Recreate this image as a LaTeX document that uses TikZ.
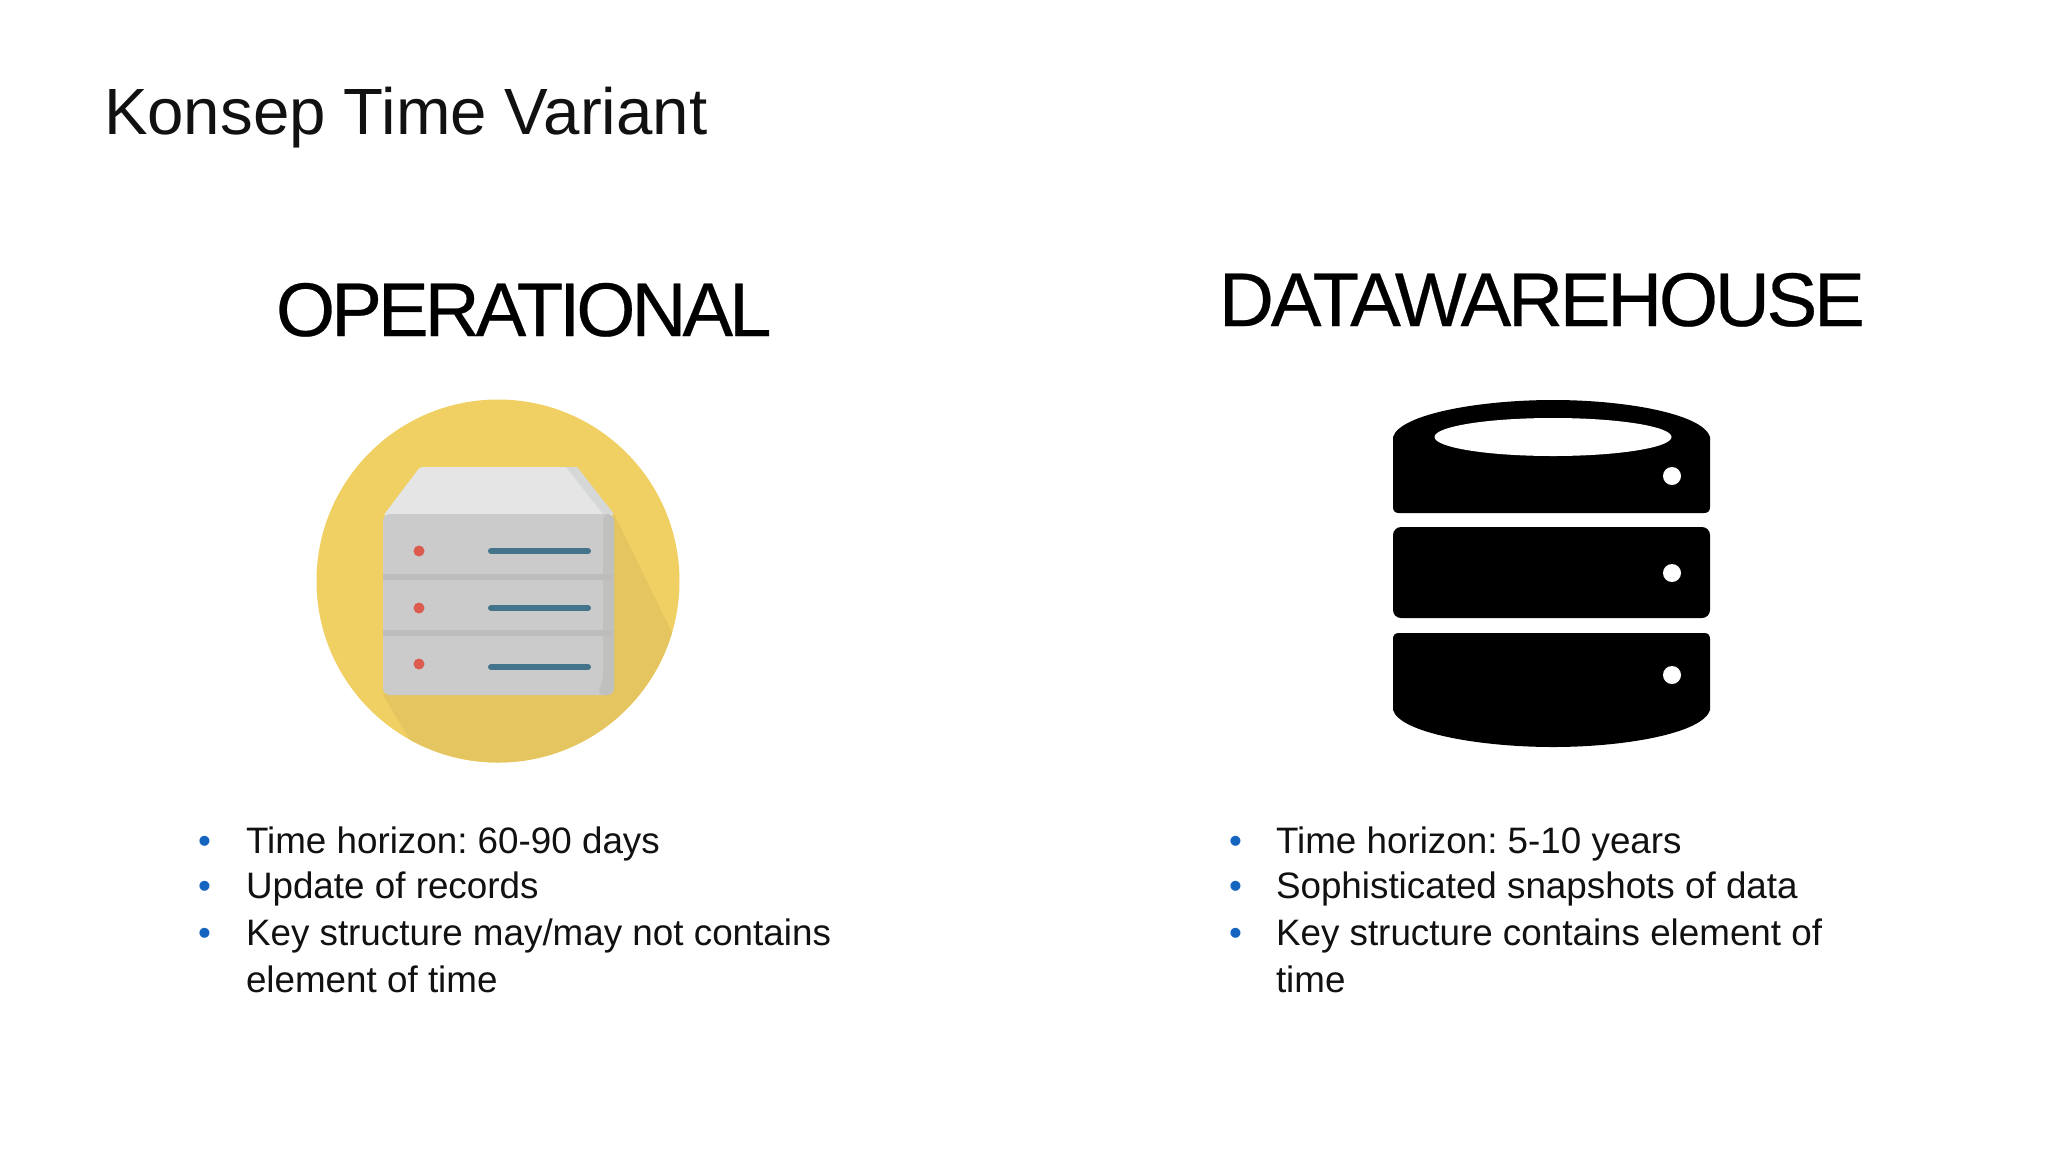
\documentclass[tikz,border=0pt]{standalone}
\usepackage{fontspec}
\setmainfont{Liberation Sans}
\newfontfamily\headfontA[LetterSpace=-5.2,FakeBold=0.35]{Liberation Sans}
\newfontfamily\headfontB[LetterSpace=-4.2,FakeBold=0.35]{Liberation Sans}
\usetikzlibrary{calc}
\frenchspacing
\definecolor{inkc}{HTML}{111111}
\definecolor{bulletc}{HTML}{1565C0}
\definecolor{yellowc}{HTML}{F0CF63}
\definecolor{shadowc}{HTML}{E5C560}
\definecolor{frontc}{HTML}{CCCBCB}
\definecolor{topc}{HTML}{E4E5E4}
\definecolor{topside}{HTML}{D6D8D8}
\definecolor{sidec}{HTML}{C0C0BE}
\definecolor{sepc}{HTML}{BEBDBC}
\definecolor{ledc}{HTML}{DB5B4E}
\definecolor{barc}{HTML}{44748C}
\tikzset{
  txt/.style={inner sep=0pt,outer sep=0pt,anchor=base west,text=inkc},
  title/.style={txt,font=\fontsize{65.4}{66}\selectfont},
  heading/.style={txt,text=black},
  item/.style={txt,font=\fontsize{36.8}{37}\selectfont},
  bul/.style={txt,font=\fontsize{36.8}{37}\selectfont,text=bulletc},
  led/.style={circle,fill=ledc,draw=none,minimum size=11pt,inner sep=0pt},
  bar/.style={line width=6pt,line cap=round,draw=barc},
  hole/.style={circle,fill=white,draw=none,minimum size=18pt,inner sep=0pt},
}
\begin{document}
\begin{tikzpicture}[x=1pt,y=-1pt]
\useasboundingbox (0,0) rectangle (2048,1152);
\fill[white] (0,0) rectangle (2048,1152);

\node[title] (title) at (104,134) {Konsep Time Variant};
\node[heading,font=\headfontA\fontsize{76}{76}\selectfont] (headop) at (276,336) {OPERATIONAL};
\node[heading,font=\headfontB\fontsize{76}{76}\selectfont] (headdw) at (1219,326) {DATAWAREHOUSE};

% server icon
\fill[yellowc] (498,581) circle (181.5);
\begin{scope}
  \clip (498,581) circle (181.5);
  \fill[shadowc] (614,514) -- (700,690) -- (700,790) -- (440,790) -- (383,695) -- cycle;
\end{scope}
\fill[topc,rounded corners=3pt] (383,516) -- (420,467) -- (577,467) -- (614,516) -- cycle;
\fill[topside] (566,467) -- (577,467) -- (614,514) -- (603,514) -- cycle;
\fill[frontc,rounded corners=7pt] (383,514) -- (614,514) -- (614,695) -- (383,695) -- cycle;
\fill[sidec,rounded corners=7pt] (603,514) -- (614,514) -- (614,695) -- (597,695) -- (603,680) -- cycle;
\fill[sepc] (383,574) rectangle (614,580);
\fill[sepc] (383,630) rectangle (614,636);
\node[led] (l1) at (419,551) {};
\node[led] (l2) at (419,608) {};
\node[led] (l3) at (419,664) {};
\draw[bar] (491,551) -- (588,551);
\draw[bar] (491,608) -- (588,608);
\draw[bar] (491,667) -- (588,667);

% database icon
\fill[black] (1393,437) .. controls (1400,414) and (1480,400) .. (1553,400)
  .. controls (1626,400) and (1703,414) .. (1710,437)
  -- (1710,507) .. controls (1710,511) and (1708,513) .. (1704,513)
  -- (1399,513) .. controls (1395,513) and (1393,511) .. (1393,507) -- cycle;
\fill[white] (1553,437) ellipse [x radius=118.5,y radius=19];
\fill[black,rounded corners=8pt] (1393,527) rectangle (1710,618);
\fill[black] (1393,639) .. controls (1393,635) and (1395,633) .. (1399,633)
  -- (1704,633) .. controls (1708,633) and (1710,635) .. (1710,639)
  -- (1710,710) .. controls (1703,733) and (1626,747) .. (1553,747)
  .. controls (1480,747) and (1400,733) .. (1393,710) -- cycle;
\node[hole] (h1) at (1672,476) {};
\node[hole] (h2) at (1672,573) {};
\node[hole] (h3) at (1672,675) {};

% left list
\node[bul] (bl1) at (198,853) {•};
\node[bul] (bl2) at (198,898) {•};
\node[bul] (bl3) at (198,945) {•};
\node[item] (tl1) at (246,853) {Time horizon: 60-90 days};
\node[item] (tl2) at (246,898) {Update of records};
\node[item] (tl3) at (246,945) {Key structure may/may not contains};
\node[item] (tl4) at (246,992) {element of time};

% right list
\node[bul] (br1) at (1229,853) {•};
\node[bul] (br2) at (1229,898) {•};
\node[bul] (br3) at (1229,945) {•};
\node[item] (tr1) at (1276,853) {Time horizon: 5-10 years};
\node[item] (tr2) at (1276,898) {Sophisticated snapshots of data};
\node[item] (tr3) at (1276,945) {Key structure contains element of};
\node[item] (tr4) at (1276,992) {time};
\end{tikzpicture}
\end{document}
